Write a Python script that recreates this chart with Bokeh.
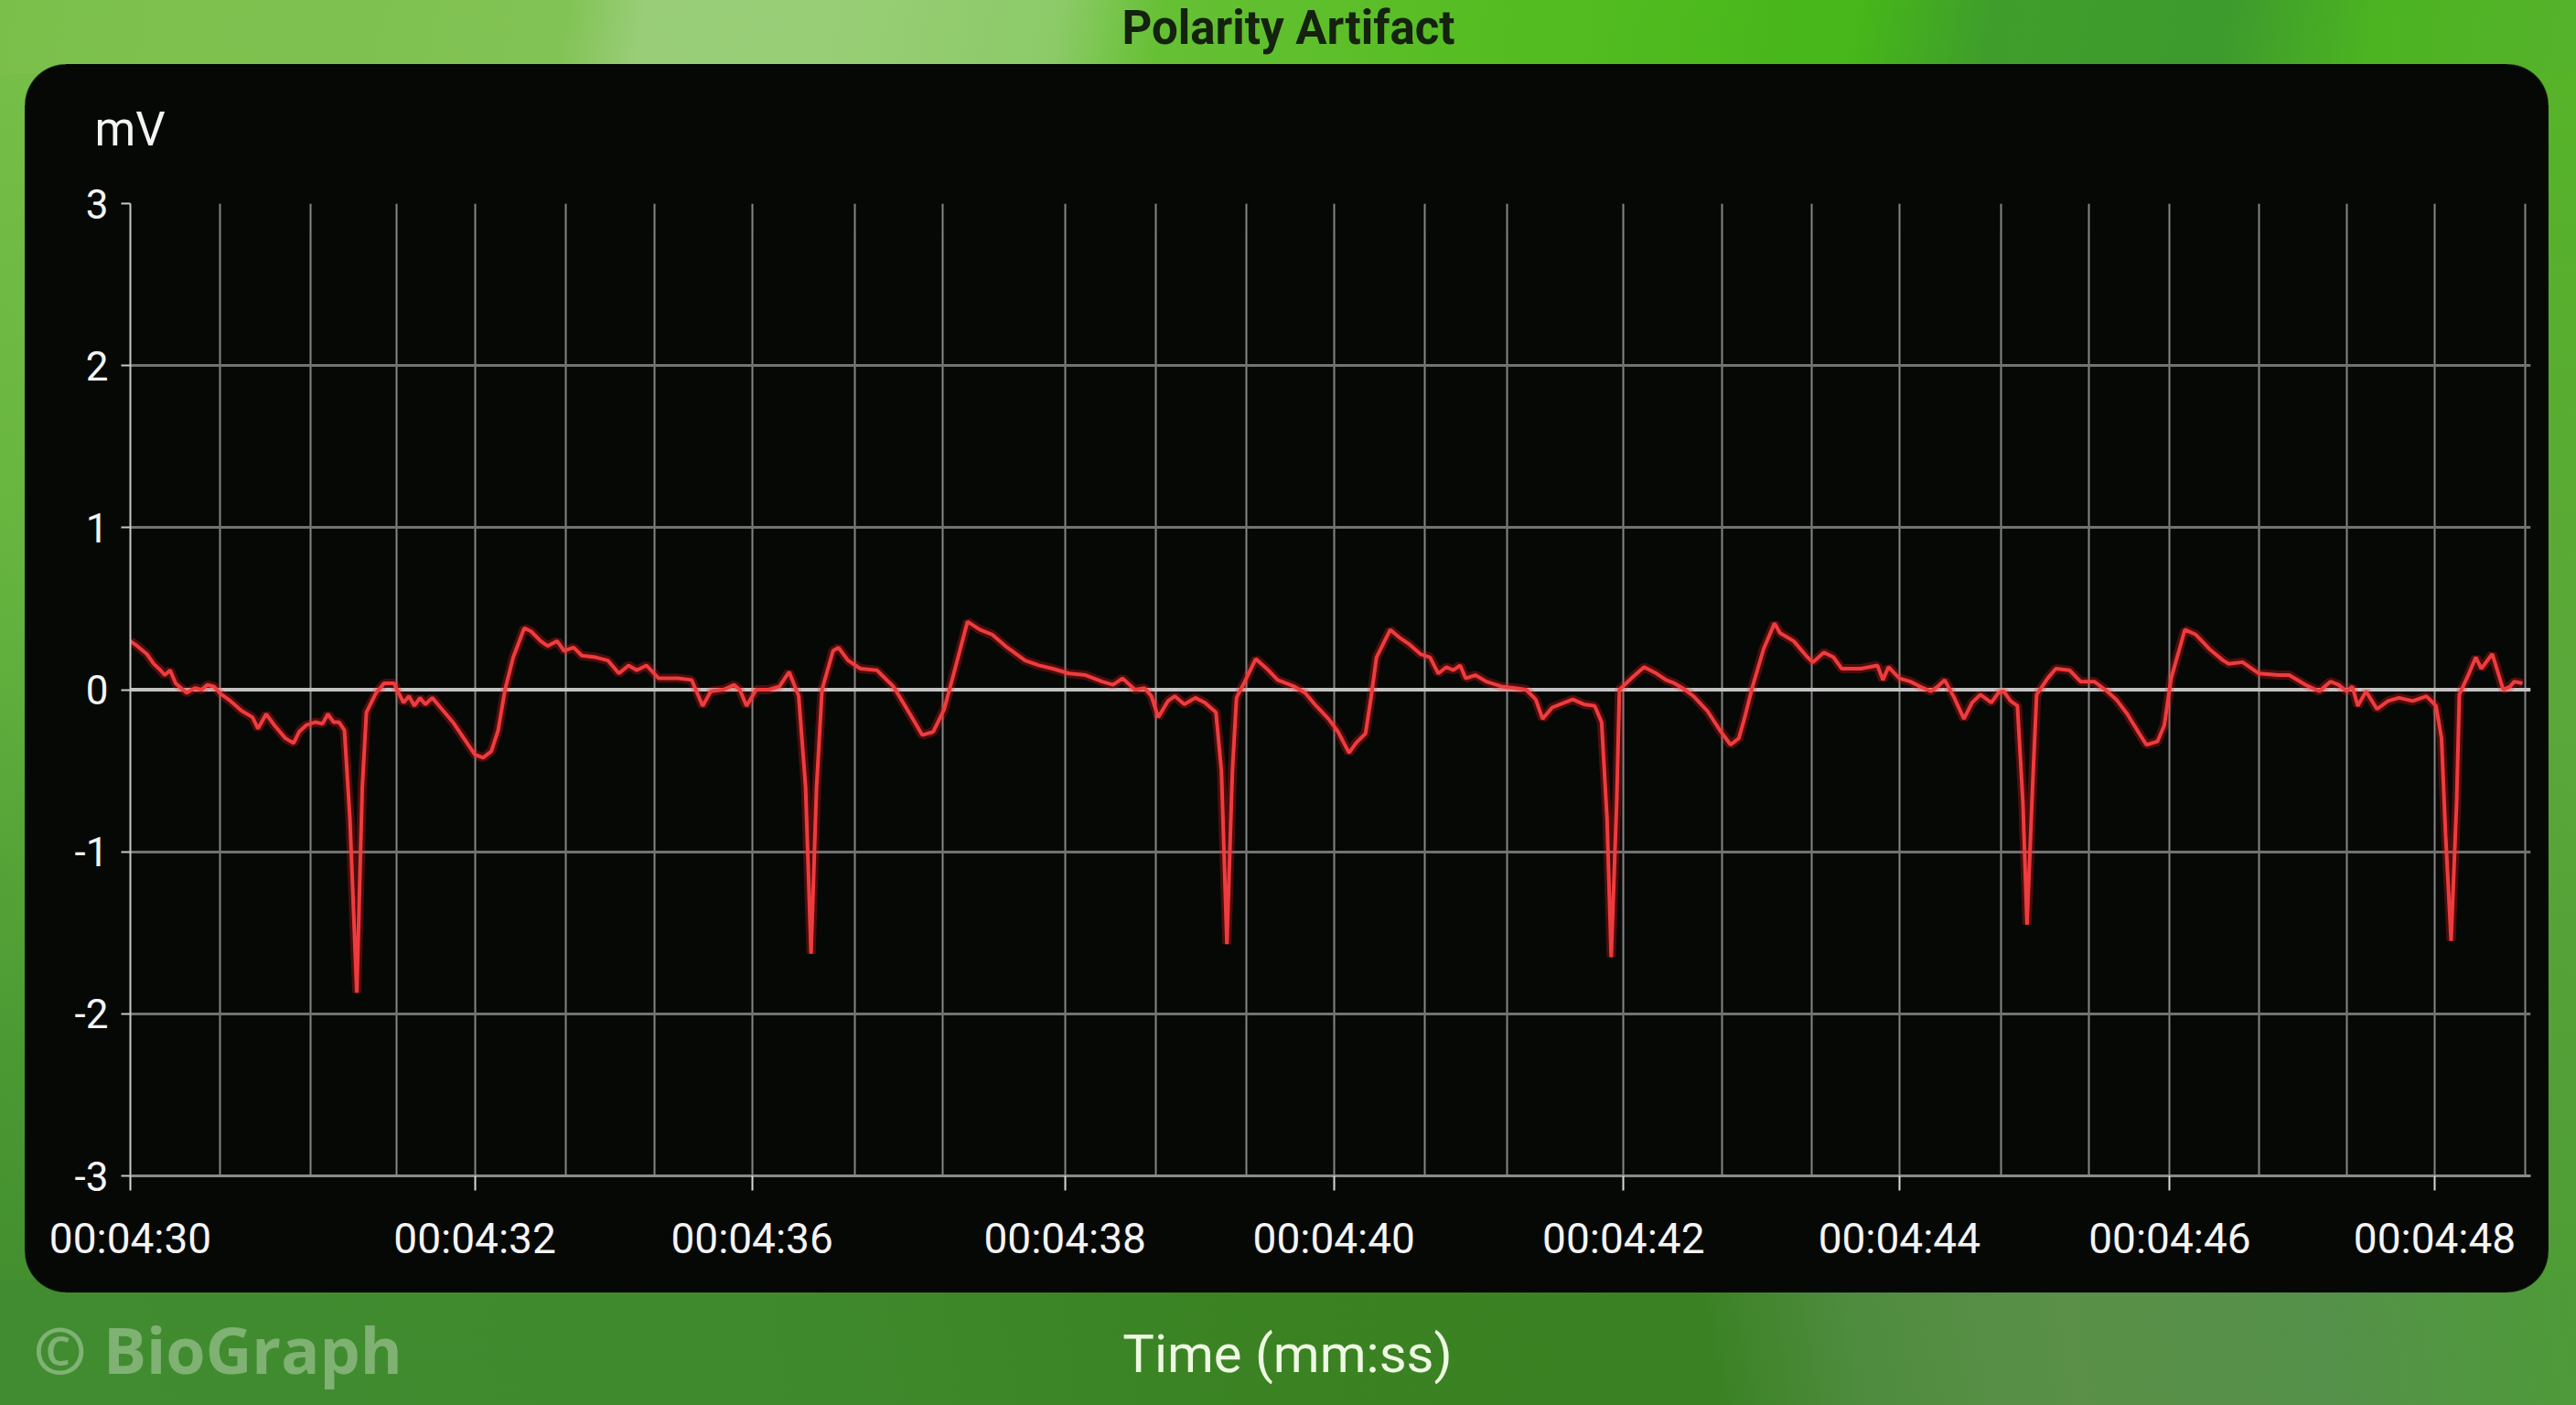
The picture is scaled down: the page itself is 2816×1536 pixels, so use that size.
from bokeh.plotting import figure
from bokeh.models import FixedTicker, Label, Span, Range1d, ColumnDataSource
from bokeh.embed import file_html
from bokeh.resources import INLINE

# ---------------- data (time in s from 00:04:30, value in mV) ----------------
t_sec = [
    0.00, 0.05, 0.12, 0.17, 0.22, 0.25, 0.29, 0.33, 0.41, 0.47,
    0.52, 0.56, 0.61, 0.65, 0.73, 0.81, 0.89, 0.93, 0.99, 1.05,
    1.13, 1.19, 1.23, 1.28, 1.35, 1.40, 1.44, 1.48, 1.52, 1.56,
    1.60, 1.65, 1.69, 1.72, 1.79, 1.85, 1.92, 1.99, 2.03, 2.07,
    2.11, 2.15, 2.20, 2.27, 2.35, 2.43, 2.51, 2.57, 2.63, 2.68,
    2.73, 2.79, 2.87, 2.92, 2.99, 3.04, 3.11, 3.16, 3.23, 3.29,
    3.39, 3.48, 3.56, 3.63, 3.69, 3.76, 3.85, 3.99, 4.09, 4.17,
    4.23, 4.32, 4.40, 4.44, 4.49, 4.56, 4.65, 4.73, 4.80, 4.87,
    4.92, 4.96, 5.00, 5.04, 5.12, 5.16, 5.23, 5.32, 5.44, 5.56,
    5.68, 5.77, 5.85, 5.93, 6.00, 6.10, 6.19, 6.28, 6.39, 6.52,
    6.62, 6.72, 6.84, 6.96, 7.08, 7.16, 7.23, 7.32, 7.39, 7.44,
    7.49, 7.56, 7.61, 7.68, 7.76, 7.83, 7.91, 7.95, 7.99, 8.03,
    8.06, 8.12, 8.20, 8.28, 8.36, 8.48, 8.56, 8.64, 8.73, 8.80,
    8.88, 8.93, 9.00, 9.04, 9.08, 9.18, 9.25, 9.32, 9.40, 9.47,
    9.53, 9.59, 9.64, 9.69, 9.73, 9.80, 9.88, 9.99, 10.09, 10.17,
    10.24, 10.29, 10.36, 10.45, 10.51, 10.59, 10.67, 10.72, 10.76, 10.79,
    10.83, 10.85, 10.95, 11.03, 11.12, 11.19, 11.25, 11.31, 11.39, 11.49,
    11.59, 11.66, 11.72, 11.76, 11.82, 11.90, 11.98, 12.02, 12.12, 12.22,
    12.26, 12.34, 12.41, 12.47, 12.61, 12.73, 12.77, 12.81, 12.89, 12.97,
    13.04, 13.12, 13.17, 13.22, 13.29, 13.36, 13.42, 13.48, 13.56, 13.61,
    13.65, 13.70, 13.75, 13.79, 13.82, 13.86, 13.89, 13.97, 14.03, 14.13,
    14.21, 14.31, 14.39, 14.47, 14.55, 14.63, 14.69, 14.77, 14.82, 14.87,
    14.93, 14.97, 15.05, 15.15, 15.25, 15.29, 15.39, 15.51, 15.65, 15.73,
    15.85, 15.95, 16.03, 16.09, 16.15, 16.19, 16.23, 16.29, 16.37, 16.45,
    16.53, 16.63, 16.73, 16.80, 16.84, 16.87, 16.91, 16.95, 16.97, 17.04,
    17.09, 17.13, 17.21, 17.29, 17.34, 17.37, 17.43,
]
mv_val = [
    0.30, 0.27, 0.22, 0.16, 0.12, 0.09, 0.12, 0.04, -0.02, 0.01,
    0.00, 0.03, 0.02, -0.02, -0.07, -0.13, -0.17, -0.24, -0.15, -0.22,
    -0.30, -0.33, -0.26, -0.22, -0.20, -0.21, -0.15, -0.20, -0.20, -0.25,
    -0.80, -1.87, -0.60, -0.14, -0.02, 0.04, 0.04, -0.08, -0.04, -0.10,
    -0.05, -0.09, -0.05, -0.12, -0.20, -0.30, -0.40, -0.42, -0.38, -0.25,
    0.00, 0.20, 0.38, 0.36, 0.30, 0.27, 0.30, 0.24, 0.26, 0.21,
    0.20, 0.18, 0.10, 0.15, 0.12, 0.15, 0.07, 0.07, 0.06, -0.10,
    -0.01, 0.00, 0.03, 0.00, -0.10, 0.00, 0.00, 0.02, 0.11, -0.04,
    -0.60, -1.63, -0.60, 0.00, 0.24, 0.26, 0.18, 0.13, 0.12, 0.02,
    -0.15, -0.28, -0.26, -0.12, 0.10, 0.42, 0.37, 0.34, 0.26, 0.18,
    0.15, 0.13, 0.10, 0.09, 0.05, 0.03, 0.07, 0.00, 0.01, -0.04,
    -0.17, -0.07, -0.04, -0.09, -0.05, -0.08, -0.14, -0.50, -1.57, -0.50,
    -0.05, 0.05, 0.19, 0.13, 0.06, 0.02, -0.02, -0.10, -0.18, -0.26,
    -0.39, -0.33, -0.27, -0.05, 0.20, 0.37, 0.32, 0.28, 0.22, 0.20,
    0.10, 0.14, 0.12, 0.15, 0.07, 0.09, 0.05, 0.02, 0.01, 0.00,
    -0.06, -0.18, -0.11, -0.08, -0.06, -0.09, -0.10, -0.20, -0.80, -1.65,
    -0.70, 0.00, 0.08, 0.14, 0.10, 0.06, 0.04, 0.01, -0.04, -0.13,
    -0.26, -0.34, -0.30, -0.18, 0.02, 0.25, 0.41, 0.35, 0.30, 0.20,
    0.17, 0.23, 0.20, 0.13, 0.13, 0.15, 0.06, 0.14, 0.07, 0.05,
    0.02, -0.01, 0.02, 0.06, -0.05, -0.18, -0.08, -0.03, -0.08, -0.02,
    -0.01, -0.07, -0.10, -0.70, -1.45, -0.60, -0.03, 0.07, 0.13, 0.12,
    0.05, 0.05, 0.00, -0.06, -0.15, -0.26, -0.34, -0.32, -0.22, 0.07,
    0.25, 0.37, 0.34, 0.25, 0.18, 0.16, 0.17, 0.10, 0.09, 0.09,
    0.03, -0.01, 0.05, 0.03, -0.01, 0.02, -0.10, -0.01, -0.12, -0.07,
    -0.05, -0.07, -0.04, -0.10, -0.30, -0.90, -1.55, -0.70, -0.03, 0.10,
    0.20, 0.13, 0.22, 0.00, 0.02, 0.05, 0.04,
]

tick_pos = [0.0, 2.51, 4.53, 6.81, 8.77, 10.88, 12.89, 14.86, 16.79]
tick_labels = ["00:04:30", "00:04:32", "00:04:36", "00:04:38", "00:04:40",
               "00:04:42", "00:04:44", "00:04:46", "00:04:48"]
grid_pos = [0.0, 0.65, 1.31, 1.94, 2.51, 3.17, 3.82, 4.53, 5.28, 5.92,
            6.81, 7.47, 8.13, 8.77, 9.43, 10.03, 10.88, 11.60, 12.25,
            12.89, 13.63, 14.27, 14.86, 15.51, 16.15, 16.79, 17.45]
y_ticks = [-3, -2, -1, 0, 1, 2, 3]
y_labels = ["-3", "-2", "-1", "0", "1", "2", "3"]

# ---------------- layout ----------------
W, H = 2816, 1536
X0, X1 = 0.0, 17.49
Y0, Y1 = -3.0, 3.0
FL, FT, FR, FB = 142, 222, 50, 251
fw = W - FL - FR
fh = H - FT - FB


def dx(px):
    return X0 + (px - FL) * (X1 - X0) / fw


def dy(py):
    return Y1 - (py - FT) * (Y1 - Y0) / fh


# CSS background: green facets + black rounded panel
PANEL = "#060806"
PL, PT, PR, PB, RAD = 27, 70, 2786, 1413, 45
corner = "radial-gradient(circle at {r}px {r}px, {c} {a}px, rgba(6,8,6,0) {b}px)".format(
    r=RAD, c=PANEL, a=RAD - 1, b=RAD + 0.5)
layers = [
    f"{corner} {PL}px {PT}px / {2*RAD}px {2*RAD}px no-repeat",
    f"{corner} {PR-2*RAD}px {PT}px / {2*RAD}px {2*RAD}px no-repeat",
    f"{corner} {PL}px {PB-2*RAD}px / {2*RAD}px {2*RAD}px no-repeat",
    f"{corner} {PR-2*RAD}px {PB-2*RAD}px / {2*RAD}px {2*RAD}px no-repeat",
    f"linear-gradient({PANEL},{PANEL}) {PL}px {PT+RAD}px / {PR-PL}px {PB-PT-2*RAD}px no-repeat",
    f"linear-gradient({PANEL},{PANEL}) {PL+RAD}px {PT}px / {PR-PL-2*RAD}px {PB-PT}px no-repeat",
    "linear-gradient(100deg, #7bbf4b 0%, #82c355 22%, #99cd78 25%, #97ce75 33%, "
    "#8cca68 41%, #66c034 45%, #55bd22 58%, #46b61a 72%, #3f9e2b 77%, #3d9a2d 86%, "
    "#4cb421 92%, #56b22c 100%) 0px 0px / 2816px 80px no-repeat",
    "linear-gradient(80deg, #418c30 0%, #3f8a2d 30%, #3a8222 50%, #3a8123 66%, "
    "#4f8c3f 72%, #5a9048 80%, #55914a 90%, #4e9b38 100%) 0px 1400px / 2816px 136px no-repeat",
    "linear-gradient(180deg, #78c049 0%, #66b43f 40%, #4b9933 75%, #3f8a2d 100%) "
    "0px 0px / 45px 1536px no-repeat",
    "linear-gradient(180deg, #56b526 0%, #5aa73a 50%, #4b9a34 100%) "
    "2770px 0px / 46px 1536px no-repeat",
    "#4c9a34",
]

p = figure(width=W, height=H, x_range=Range1d(X0, X1), y_range=Range1d(Y0, Y1),
           output_backend="svg", toolbar_location=None,
           min_border_left=FL, min_border_top=FT, min_border_right=FR,
           min_border_bottom=FB)
p.styles = {"background": ", ".join(layers)}
p.border_fill_color = None
p.background_fill_color = PANEL
p.outline_line_color = None

# ---------------- grid & axes ----------------
p.xgrid.ticker = FixedTicker(ticks=grid_pos)
p.xgrid.grid_line_color = "#858585"
p.xgrid.grid_line_width = 2
p.ygrid.ticker = FixedTicker(ticks=[-3, -2, -1, 1, 2, 3])
p.ygrid.grid_line_color = "#727272"
p.ygrid.grid_line_width = 3

p.add_layout(Span(location=0, dimension="width", line_color="#c2c2c2",
                  line_width=4, level="underlay"))

xa = p.xaxis[0]
xa.ticker = FixedTicker(ticks=tick_pos)
xa.major_label_overrides = dict(zip(tick_pos, tick_labels))
xa.axis_line_color = "#8a8a8a"
xa.axis_line_width = 3
xa.major_tick_line_color = "#d8d8d8"
xa.major_tick_line_width = 2
xa.major_tick_out = 16
xa.major_tick_in = 0
xa.minor_tick_line_color = None
xa.major_label_standoff = 25
xa.major_label_text_color = "#f4f4f4"
xa.major_label_text_font = "Roboto"
xa.major_label_text_font_size = "46px"

ya = p.yaxis[0]
ya.ticker = FixedTicker(ticks=y_ticks)
ya.major_label_overrides = dict(zip(y_ticks, y_labels))
ya.axis_line_color = "#c8c8c8"
ya.axis_line_width = 2
ya.major_tick_line_color = "#c8c8c8"
ya.major_tick_line_width = 2
ya.major_tick_out = 10
ya.major_tick_in = 0
ya.minor_tick_line_color = None
ya.major_label_standoff = 14
ya.major_label_text_color = "#f4f4f4"
ya.major_label_text_font = "Roboto"
ya.major_label_text_font_size = "44px"

# ---------------- signal ----------------
src = ColumnDataSource(dict(t=t_sec, v=mv_val))
p.line("t", "v", source=src, line_color="#ff1e1e", line_width=10, line_alpha=0.28)
p.line("t", "v", source=src, line_color="#ee3c3e", line_width=4)

# ---------------- texts (side panels, so they are not clipped to the frame) ----------------
p.add_layout(Label(x=dx(1408), y=dy(30), text="Polarity Artifact", text_align="center",
                   text_baseline="alphabetic", text_font="Roboto", text_font_style="bold",
                   text_font_size="51px", text_color="#14220e"), "above")
p.add_layout(Label(x=dx(103), y=dy(141), text="mV", text_align="left",
                   text_baseline="alphabetic", text_font="Roboto",
                   text_font_size="51px", text_color="#f4f4f4"), "above")
p.add_layout(Label(x=dx(36), y=dy(1474), text="© BioGraph", text_align="left",
                   text_baseline="alphabetic", text_font="Open Sans", text_font_style="bold",
                   text_font_size="70px", text_color="#ffffff", text_alpha=0.33), "above")
p.add_layout(Label(x=dx(1407), y=dy(1479), text="Time (mm:ss)", text_align="center",
                   text_baseline="alphabetic", text_font="Roboto",
                   text_font_size="58px", text_color="#eef8e2"), "below")

open("out.html", "w").write(file_html(p, INLINE))
